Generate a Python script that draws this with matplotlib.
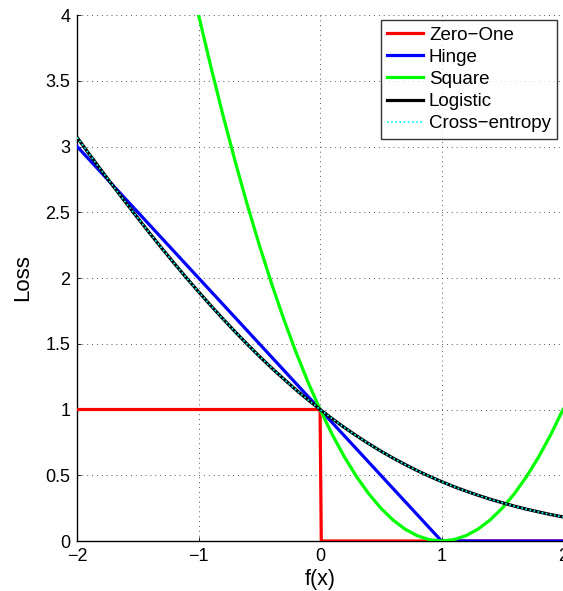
import matplotlib
matplotlib.use("Agg")
import matplotlib.pyplot as plt

plt.rcParams['font.family'] = ['Liberation Sans', 'DejaVu Sans']

# Margin values f(x) sampled every 0.1 on [-2, 2]
fx = [-2.0, -1.9, -1.8, -1.7, -1.6, -1.5, -1.4, -1.3, -1.2, -1.1,
      -1.0, -0.9, -0.8, -0.7, -0.6, -0.5, -0.4, -0.3, -0.2, -0.1,
      0.0, 0.1, 0.2, 0.3, 0.4, 0.5, 0.6, 0.7, 0.8, 0.9,
      1.0, 1.1, 1.2, 1.3, 1.4, 1.5, 1.6, 1.7, 1.8, 1.9, 2.0]

# Logistic loss (base-2), also the cross-entropy curve
logistic = [3.069, 2.942, 2.818, 2.695, 2.574, 2.455, 2.338, 2.223, 2.111, 2.001,
            1.895, 1.791, 1.690, 1.592, 1.497, 1.405, 1.317, 1.233, 1.151, 1.074,
            1.000, 0.930, 0.863, 0.800, 0.740, 0.684, 0.631, 0.582, 0.535, 0.492,
            0.452, 0.414, 0.380, 0.348, 0.318, 0.291, 0.265, 0.242, 0.221, 0.201,
            0.183]

# Square loss from f(x) = -1 onwards (above that it leaves the axes)
square_x = fx[10:]
square = [4.00, 3.61, 3.24, 2.89, 2.56, 2.25, 1.96, 1.69, 1.44, 1.21,
          1.00, 0.81, 0.64, 0.49, 0.36, 0.25, 0.16, 0.09, 0.04, 0.01,
          0.00, 0.01, 0.04, 0.09, 0.16, 0.25, 0.36, 0.49, 0.64, 0.81,
          1.00]

# Hinge loss breakpoints
hinge_x = [-2.0, 1.0, 2.0]
hinge = [3.0, 0.0, 0.0]

# Zero-one loss breakpoints
zero_one_x = [-2.0, 0.0, 0.01, 2.0]
zero_one = [1.0, 1.0, 0.0, 0.0]

xticks = [-2, -1, 0, 1, 2]
yticks = [0, 0.5, 1, 1.5, 2, 2.5, 3, 3.5, 4]

fig = plt.figure(figsize=(5.63, 5.91), dpi=100)
ax = fig.add_axes([0.137, 0.0846, 0.863, 0.89])

lw = 2.3
ax.plot(zero_one_x, zero_one, color=(1, 0, 0), lw=lw, label='Zero\u2212One', zorder=3)
ax.plot(hinge_x, hinge, color=(0, 0, 1), lw=lw, label='Hinge', zorder=3)
ax.plot(square_x, square, color=(0, 1, 0), lw=lw, label='Square', zorder=3)
ax.plot(fx, logistic, color='black', lw=lw, label='Logistic', zorder=4)
ax.plot(fx, logistic, color=(0, 1, 1), lw=1.2, ls=(0, (1, 1.5)),
        label='Cross\u2212entropy', zorder=5)

ax.set_xlim(-2, 2)
ax.set_ylim(0, 4)
ax.set_xticks(xticks)
ax.set_yticks(yticks)
ax.set_xticklabels(['\u22122', '\u22121', '0', '1', '2'])
ax.set_yticklabels(['0', '0.5', '1', '1.5', '2', '2.5', '3', '3.5', '4'])
ax.tick_params(direction='in', length=3, labelsize=13, width=0.6, pad=5)
ax.grid(True, ls=(0, (1, 4)), color='#555555', lw=0.7)

for side in ['top', 'right']:
    ax.spines[side].set_visible(False)
for side in ['left', 'bottom']:
    ax.spines[side].set_linewidth(1.0)

ax.set_xlabel('f(x)', fontsize=15.5, labelpad=3)
ax.set_ylabel('Loss', fontsize=16, labelpad=9)

leg = ax.legend(loc='upper right', bbox_to_anchor=(0.988, 0.99), fontsize=13.5,
                frameon=True, fancybox=False, handlelength=1.95,
                handletextpad=0.3, borderpad=0.33, labelspacing=0.27,
                borderaxespad=0)
leg.get_frame().set_edgecolor('black')
leg.get_frame().set_linewidth(1.0)

fig.savefig('out.png', dpi=100)
